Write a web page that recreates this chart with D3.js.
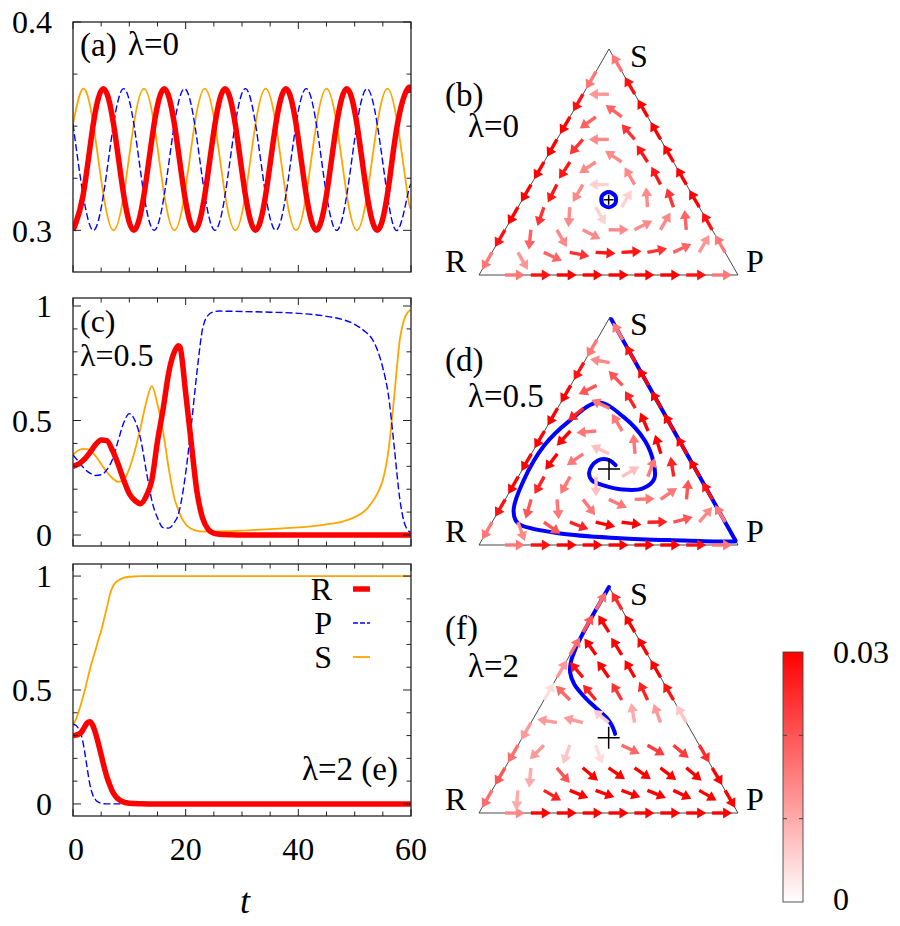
<!DOCTYPE html>
<html><head><meta charset="utf-8">
<script src="https://cdn.jsdelivr.net/npm/d3@7/dist/d3.min.js"></script>
<style>
body{margin:0;background:#fff}
svg{display:block}
text{font-family:"Liberation Serif","Times New Roman",serif;fill:#000}
</style>
</head><body><svg id="c" width="900" height="926"></svg>
<script>
// ---------------- DATA ----------------
// Panel (a), lambda = 0
const tA = [0,1.8,3.6,5.4,7.2,9,10.8,12.6,14.4,16.2,18,19.8,21.6,23.4,25.2,27,28.8,30.6,32.4,34.2,36,37.8,39.6,41.4,43.2,45,46.8,48.6,50.4,52.2,54,55.8,57.6,59.4,60];
const aR = [0.300,0.317,0.351,0.368,0.351,0.317, 0.300,0.317,0.351,0.368,0.351,0.317, 0.300,0.317,0.351,0.368,0.351,0.317, 0.300,0.317,0.351,0.368,0.351,0.317, 0.300,0.317,0.351,0.368,0.351,0.317, 0.300,0.317,0.351,0.368, 0.366];
const aP = [0.351,0.317,0.300,0.317,0.351,0.368, 0.351,0.317,0.300,0.317,0.351,0.368, 0.351,0.317,0.300,0.317,0.351,0.368, 0.351,0.317,0.300,0.317,0.351,0.368, 0.351,0.317,0.300,0.317,0.351,0.368, 0.351,0.317,0.300,0.317, 0.322];
const aS = [0.351,0.368,0.351,0.317,0.300,0.317, 0.351,0.368,0.351,0.317,0.300,0.317, 0.351,0.368,0.351,0.317,0.300,0.317, 0.351,0.368,0.351,0.317,0.300,0.317, 0.351,0.368,0.351,0.317,0.300,0.317, 0.351,0.368,0.351,0.317, 0.311];

// Panel (c), lambda = 0.5
const tC = [0,1,2,3,4,5,6,7,8,9,10,11,12,13,14,15,16,17,18,18.7,19,20,21,22,23,24,25,26,28,30,35,40,45,48,50,52,53,54,55,56,57,58,59,60];
const cR = [0.300,0.31,0.33,0.36,0.395,0.415,0.412,0.37,0.31,0.24,0.18,0.15,0.137,0.17,0.24,0.41,0.55,0.71,0.80,0.827,0.82,0.62,0.40,0.19,0.074,0.025,0.008,0.003,0.001,0,0,0,0,0,0,0,0,0,0,0,0,0,0,0];
const cP = [0.35,0.32,0.29,0.27,0.26,0.263,0.285,0.33,0.41,0.49,0.53,0.50,0.42,0.28,0.15,0.075,0.032,0.03,0.055,0.09,0.12,0.27,0.48,0.71,0.90,0.96,0.975,0.978,0.977,0.976,0.973,0.968,0.955,0.94,0.92,0.885,0.86,0.81,0.73,0.61,0.39,0.16,0.04,0.01];
const cS = [0.35,0.37,0.376,0.37,0.345,0.31,0.275,0.248,0.232,0.24,0.29,0.37,0.47,0.58,0.65,0.57,0.45,0.29,0.16,0.11,0.09,0.047,0.027,0.018,0.015,0.015,0.015,0.016,0.017,0.019,0.026,0.033,0.046,0.06,0.078,0.11,0.14,0.18,0.24,0.37,0.60,0.85,0.955,0.985];

// Panel (e), lambda = 2
const tE = [0,0.5,1,1.5,2,2.5,3,3.5,4,4.5,5,5.5,6,6.5,7,7.5,8,9,10,12,15,20,30,40,50,60];
const eR = [0.30,0.302,0.306,0.315,0.335,0.355,0.361,0.345,0.31,0.265,0.215,0.165,0.12,0.085,0.055,0.035,0.022,0.008,0.003,0.001,0,0,0,0,0,0];
const eP = [0.35,0.345,0.33,0.30,0.24,0.16,0.085,0.04,0.018,0.008,0.003,0.001,0,0,0,0,0,0,0,0,0,0,0,0,0,0];
const eS = [0.35,0.37,0.405,0.445,0.49,0.54,0.59,0.635,0.675,0.72,0.76,0.81,0.86,0.915,0.95,0.97,0.98,0.992,0.997,1,1,1,1,1,1,1];

// tick values / labels
const xTicks = [0,5,10,15,20,25,30,35,40,45,50,55,60];
const xLabels = [0,20,40,60];
const yTicksA = [0.3,0.325,0.35,0.375,0.4];
const yLabelsA = [0.3,0.4];
const yTicksCE = [0,0.1,0.2,0.3,0.4,0.5,0.6,0.7,0.8,0.9,1];
const yLabelsCE = [0,0.5,1];
const seriesNames = ["R","P","S"];
const cbTicks = [0.01,0.02];
const cbLabels = ["0","0.03"];

// Arrow fields on the simplex grid (rows from bottom edge s=0 upward;
// angle in degrees, 0 = right, 90 = up; speed for colour 0..0.03)
const bAng = [[0,0,0,0,0,0,0,0,0],[240,-60,-25,-11,-3,3,11,25,60,120],[240,264,-60,-27,0,27,60,95,120],[240,251,266,-60,60,94,109,120],[240,243,240,180,120,117,120],[240,237,214,146,123,120],[240,229,180,131,120],[240,216,144,120],[240,180,120],[240,120]];
const bSpd = [[.016,.028,.037,.042,.044,.042,.037,.028,.016],[.016,.0124,.0185,.024,.0275,.0275,.024,.0185,.0124,.016],[.028,.0185,.014,.0138,.014,.0138,.014,.0185,.028],[.037,.024,.0138,.0055,.0055,.0138,.024,.037],[.042,.0275,.014,.0055,.014,.0275,.042],[.044,.0275,.0138,.0138,.0275,.044],[.042,.024,.014,.024,.042],[.037,.0185,.0185,.037],[.028,.0124,.028],[.016,.016]];
const dAng = [[0,0,0,0,0,0,0,0,0],[240,-70,-35,-21,-13,-7,1,15,50,120],[240,254,-85,-52,-25,2,35,85,120],[240,241,241,-90,30,69,99,120],[240,233,215,155,95,107,120],[240,227,185,121,113,120],[240,219,155,121,120],[240,206,134,120],[240,170,120],[240,120]];
const dSpd = [[.016,.028,.037,.042,.044,.042,.037,.028,.016],[.016,.014,.02,.026,.03,.03,.026,.02,.014,.016],[.028,.02,.016,.016,.016,.016,.016,.02,.028],[.037,.026,.016,.0075,.0075,.016,.026,.037],[.042,.03,.016,.0075,.016,.03,.042],[.044,.03,.016,.016,.03,.044],[.042,.026,.016,.026,.042],[.037,.02,.02,.037],[.028,.014,.028],[.016,.016]];
const fAng = [[0,0,0,0,0,0,0,0,0],[240,-95,-30,-22,-20,-20,-22,-25,-30,-60],[240,-95,-50,-40,-35,-35,-38,-40,-60],[240,225,250,-70,-25,-30,-40,-60],[240,170,165,140,100,110,120],[60,135,130,120,115,120],[60,130,125,120,120],[60,125,122,120],[60,122,120],[60,120]];
const fSpd = [[.014,.03,.036,.038,.038,.038,.038,.038,.038],[.017,.01,.026,.032,.036,.036,.036,.036,.036,.032],[.02,.01,.02,.03,.035,.036,.036,.036,.032],[.017,.012,.007,.004,.018,.023,.023,.025],[.012,.012,.012,.006,.01,.012,.007],[.004,.018,.026,.024,.026,.028],[.012,.028,.033,.033,.033],[.017,.033,.035,.035],[.02,.033,.033],[.017,.025]];

// ---------------- DRAWING ----------------
const RED = "#ff0000", BLUE = "#0000ff", ORANGE = "#ffa500";
const svg = d3.select("#c");
const FS = 32;

const xL = d3.scaleLinear().domain([0, 60]).range([73, 411]);

const leftPanels = [
  {id:"a", t:tA, R:aR, P:aP, S:aS, y:d3.scaleLinear().domain([0.28,0.4]).range([272,22]),
   ticks:yTicksA, labels:yLabelsA, curve:d3.curveNatural, xlab:false},
  {id:"c", t:tC, R:cR, P:cP, S:cS, y:d3.scaleLinear().domain([-0.048,1.035]).range([546,298]),
   ticks:yTicksCE, labels:yLabelsCE, curve:d3.curveMonotoneX, xlab:false},
  {id:"e", t:tE, R:eR, P:eP, S:eS, y:d3.scaleLinear().domain([-0.053,1.053]).range([816,564]),
   ticks:yTicksCE, labels:yLabelsCE, curve:d3.curveMonotoneX, xlab:true}
];

const styles = {
  R:{stroke:RED, w:5.5, dash:null},
  P:{stroke:BLUE, w:1.4, dash:"7,3"},
  S:{stroke:ORANGE, w:1.8, dash:null}
};

leftPanels.forEach(pn => {
  const g = svg.append("g");
  const [y1, y0] = pn.y.range();
  const x0 = xL.range()[0], x1 = xL.range()[1];
  g.append("clipPath").attr("id","clip"+pn.id).append("rect")
    .attr("x",x0).attr("y",y0).attr("width",x1-x0).attr("height",y1-y0);
  const lg = g.append("g").attr("clip-path","url(#clip"+pn.id+")");
  ["S","P","R"].forEach(key => {
    const pts = pn.t.map((t,i)=>[t, pn[key][i]]);
    const st = styles[key];
    lg.append("path").attr("d", d3.line().x(d=>xL(d[0])).y(d=>pn.y(d[1])).curve(pn.curve)(pts))
      .attr("fill","none").attr("stroke",st.stroke).attr("stroke-width",st.w)
      .attr("stroke-dasharray",st.dash).attr("stroke-linejoin","round");
  });
  g.append("rect").attr("x",x0).attr("y",y0).attr("width",x1-x0).attr("height",y1-y0)
    .attr("fill","none").attr("stroke","#222").attr("stroke-width",1.3);
  pn.ticks.forEach(v => {
    const len = pn.labels.some(l=>Math.abs(l-v)<1e-9) ? 8 : 4.5;
    const yy = pn.y(v);
    g.append("line").attr("x1",x0).attr("x2",x0+len).attr("y1",yy).attr("y2",yy).attr("stroke","#222").attr("stroke-width",1);
    g.append("line").attr("x1",x1).attr("x2",x1-len).attr("y1",yy).attr("y2",yy).attr("stroke","#222").attr("stroke-width",1);
  });
  pn.labels.forEach(v => {
    g.append("text").attr("x",52).attr("y",pn.y(v)).attr("dy","0.35em").attr("text-anchor","end")
      .attr("font-size",FS).text(d3.format("~g")(v));
  });
  xTicks.forEach(v => {
    const len = xLabels.includes(v) ? 7 : 4.5;
    const xx = xL(v);
    g.append("line").attr("x1",xx).attr("x2",xx).attr("y1",y1).attr("y2",y1-len).attr("stroke","#222").attr("stroke-width",1);
    g.append("line").attr("x1",xx).attr("x2",xx).attr("y1",y0).attr("y2",y0+len).attr("stroke","#222").attr("stroke-width",1);
  });
  if (pn.xlab) {
    xLabels.forEach(v => {
      g.append("text").attr("x",xL(v)+(v===0?3:0)).attr("y",y1+44).attr("text-anchor","middle")
        .attr("font-size",FS).text(v);
    });
  }
});

const T = (x,y,s,opt={}) => svg.append("text").attr("x",x).attr("y",y).attr("font-size",opt.fs||33)
  .attr("text-anchor",opt.anchor||"start").attr("font-style",opt.style||null).text(s);
T(80,56,"(a)"); T(128,55,"λ=0");
T(80,332,"(c)",{fs:32}); T(80,366,"λ=0.5",{fs:32});
T(398,780,"λ=2 (e)",{anchor:"end"});
T(245,913,"t",{style:"italic",fs:36,anchor:"middle"});

const legY = [589,623,657];
seriesNames.forEach((nm,i) => {
  T(332, legY[i]+11, nm, {anchor:"end", fs:FS});
  const st = styles[nm];
  svg.append("line").attr("x1",353).attr("x2",370).attr("y1",legY[i]).attr("y2",legY[i])
    .attr("stroke",st.stroke).attr("stroke-width",st.w).attr("stroke-dasharray",st.dash?"5,2":null);
});

// ---------------- simplex panels ----------------
const cScale = d3.scaleLinear().domain([0,0.03]).range(["#ffffff","#ff0000"]).clamp(true);

function triMap(V){
  return (r,p,s) => { const t=r+p+s; return [(V.R[0]*r+V.P[0]*p+V.S[0]*s)/t, (V.R[1]*r+V.P[1]*p+V.S[1]*s)/t]; };
}

const triPanels = [
  {V:{R:[479,275],P:[738,275],S:[609,49]}, ang:bAng, spd:bSpd, t:tA, R:aR, P:aP, S:aS,
   lab:["(b)",445,106], lam:["λ=0",468,137], cross:5},
  {V:{R:[479,545],P:[738,545],S:[610,317]}, ang:dAng, spd:dSpd, t:tC, R:cR, P:cP, S:cS,
   lab:["(d)",445,371], lam:["λ=0.5",468,407], cross:11},
  {V:{R:[479,813],P:[738,813],S:[609,587]}, ang:fAng, spd:fSpd, t:tE, R:eR, P:eP, S:eS,
   lab:["(f)",445,639], lam:["λ=2",468,677], cross:11}
];

triPanels.forEach(tp => {
  const V = tp.V, map = triMap(V);
  const g = svg.append("g");
  g.append("path").attr("d",`M${V.R[0]},${V.R[1]}L${V.P[0]},${V.P[1]}L${V.S[0]},${V.S[1]}Z`)
    .attr("fill","none").attr("stroke","#333").attr("stroke-width",0.9);
  const pts = tp.t.map((t,i)=>map(tp.R[i],tp.P[i],tp.S[i]));
  g.append("path").attr("d", d3.line().curve(d3.curveCatmullRom.alpha(0.5))(pts))
    .attr("fill","none").attr("stroke",BLUE).attr("stroke-width",4).attr("stroke-linejoin","round").attr("stroke-linecap","round");
  const ag = g.append("g");
  tp.ang.forEach((row,k) => row.forEach((ang,i) => {
    const j = k===0 ? i+1 : i;
    const [x,y] = map(1-(k+j)/10, j/10, k/10);
    const th = ang*Math.PI/180, ux = Math.cos(th), uy = -Math.sin(th);
    const L = 20, hl = 9, hw = 5.5;
    const col = cScale(tp.spd[k][i]);
    const bx = x+ux*(L-hl), by = y+uy*(L-hl);
    ag.append("line").attr("x1",x).attr("y1",y).attr("x2",bx+ux).attr("y2",by+uy)
      .attr("stroke",col).attr("stroke-width",3.4);
    ag.append("path").attr("d",`M${x+ux*L},${y+uy*L}L${bx-uy*hw},${by+ux*hw}L${bx+uy*hw},${by-ux*hw}Z`)
      .attr("fill",col);
  }));
  const [cx,cy] = map(1/3,1/3,1/3);
  g.append("path").attr("d",`M${cx-tp.cross},${cy}H${cx+tp.cross}M${cx},${cy-tp.cross}V${cy+tp.cross}`)
    .attr("stroke","#000").attr("stroke-width",1.5);
  T(630, V.S[1]+18, "S", {fs:FS});
  T(445, V.R[1]-3, "R", {fs:FS});
  T(746, V.P[1]-3, "P", {fs:FS});
  T(tp.lab[1], tp.lab[2], tp.lab[0]);
  T(tp.lam[1], tp.lam[2], tp.lam[0]);
});

// ---------------- colour bar ----------------
const cb = {x:783, y:652, w:20, h:250};
const cbScale = d3.scaleLinear().domain([0,0.03]).range([cb.y+cb.h, cb.y]);
const defs = svg.append("defs");
const grad = defs.append("linearGradient").attr("id","cbg").attr("x1",0).attr("y1",1).attr("x2",0).attr("y2",0);
grad.append("stop").attr("offset","0%").attr("stop-color",cScale(0));
grad.append("stop").attr("offset","100%").attr("stop-color",cScale(0.03));
svg.append("rect").attr("x",cb.x).attr("y",cb.y).attr("width",cb.w).attr("height",cb.h)
  .attr("fill","url(#cbg)").attr("stroke","#444").attr("stroke-width",0.9);
cbTicks.forEach(v => {
  const yy = cbScale(v);
  svg.append("line").attr("x1",cb.x).attr("x2",cb.x+4).attr("y1",yy).attr("y2",yy).attr("stroke","#444");
  svg.append("line").attr("x1",cb.x+cb.w).attr("x2",cb.x+cb.w-4).attr("y1",yy).attr("y2",yy).attr("stroke","#444");
});
T(833, cbScale(0.03)+11, cbLabels[1], {fs:FS});
T(833, cbScale(0)+8, cbLabels[0], {fs:FS});
</script>
</body></html>
